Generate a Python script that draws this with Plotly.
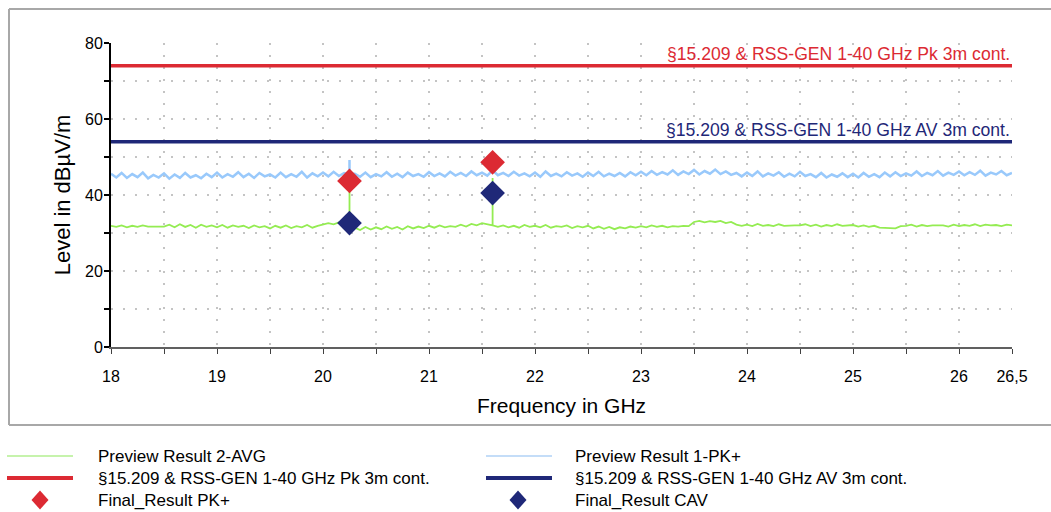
import numpy as np
import plotly.graph_objects as go

# ---------------- data ----------------
# frequency grid of the preview scans (GHz), 0.05 GHz steps from 18 to 26.5
freq_ghz = np.round(18.0 + 0.05 * np.arange(171), 2)

preview_pk = [
    45.6, 44.6, 45.8, 44.5, 45.5, 44.7, 45.9, 44.4, 45.3, 44.6, 45.7, 44.3, 45.4, 44.5, 45.8, 44.6, 45.2, 44.4, 45.6, 44.7,
    45.9, 44.6, 45.5, 44.8, 46.0, 44.7, 45.6, 44.5, 45.8, 44.9, 45.4, 44.6, 45.9, 44.7, 45.5, 44.8, 46.1, 44.6, 45.7, 44.9,
    45.9, 44.9, 46.1, 45.0, 45.8, 45.5, 45.6, 44.8, 45.9, 44.7, 45.5, 44.9, 46.0, 44.8, 45.6, 44.7, 45.9, 45.0, 45.5, 44.8,
    46.0, 45.0, 45.7, 44.9, 46.1, 45.1, 45.8, 45.0, 46.2, 45.2, 45.9, 45.1, 46.5, 45.2, 45.8, 45.0, 46.1, 45.1, 45.7, 44.9,
    45.9, 44.8, 46.2, 45.0, 45.6, 44.9, 46.0, 45.1, 45.7, 44.8, 45.9, 45.0, 46.1, 44.9, 45.6, 45.0, 45.8, 44.9, 46.0, 45.2,
    46.1, 45.2, 46.3, 45.3, 46.0, 45.4, 46.5, 45.3, 46.2, 45.5, 46.6, 45.4, 46.3, 45.6, 46.7, 45.5, 46.2, 45.3, 45.8, 44.9,
    45.9, 45.0, 46.2, 44.9, 45.7, 45.1, 46.0, 44.8, 45.6, 44.9, 46.1, 45.0, 45.5, 44.7, 45.8, 44.6, 45.4, 44.8, 45.7, 44.7,
    45.6, 44.6, 45.8, 44.8, 45.5, 44.7, 45.9, 44.9, 46.0, 45.0, 45.7, 45.1, 46.2, 45.0, 45.8, 45.2, 46.3, 45.1, 45.9, 45.3,
    46.2, 45.2, 46.0, 45.3, 46.4, 45.1, 45.9, 45.4, 46.3, 45.2, 45.8,
]
pk_spike_freq = [20.25]
pk_spike_level = [49.2]

preview_avg = [
    31.9, 31.6, 32.0, 31.5, 31.9, 31.6, 32.0, 31.7, 31.7, 31.7, 31.7, 32.2, 31.5, 32.3, 31.6, 32.1, 31.4, 32.2, 31.6, 32.0,
    31.5, 32.1, 31.4, 32.0, 31.6, 31.9, 31.3, 32.0, 31.5, 31.8, 31.2, 31.9, 31.4, 32.0, 31.3, 31.8, 31.5, 32.1, 31.4, 31.9,
    32.2, 32.6, 32.3, 32.8, 32.4, 32.3, 31.4, 30.8, 31.6, 30.9, 31.5, 31.0, 31.7, 31.1, 31.6, 30.9, 31.8, 31.2, 31.7, 31.3,
    31.9, 31.4, 32.0, 31.5, 31.8, 31.6, 32.2, 31.7, 32.4, 32.0, 32.6, 32.3, 32.0, 31.6, 32.0, 31.5, 31.9, 31.4, 32.1, 31.6,
    31.9, 31.5, 32.1, 31.4, 31.8, 31.6, 32.0, 31.3, 31.8, 31.5, 31.9, 31.2, 31.7, 31.1, 31.6, 31.0, 31.5, 31.2, 31.7, 31.4,
    31.8, 31.5, 32.0, 31.6, 31.9, 31.5, 31.8, 31.7, 31.9, 31.8, 32.9, 33.2, 32.8, 33.1, 32.9, 33.2, 32.6, 32.9, 32.2, 31.9,
    32.2, 31.8, 32.4, 31.9, 32.1, 31.8, 32.3, 31.9, 32.0, 32.0, 32.0, 32.3, 31.8, 32.2, 31.7, 32.1, 31.8, 32.3, 31.9, 32.0,
    32.1, 31.7, 32.0, 31.6, 31.9, 31.4, 31.3, 31.3, 31.2, 31.8, 31.9, 32.2, 31.7, 32.1, 31.8, 32.0, 32.0, 32.0, 31.7, 32.2,
    31.8, 32.1, 31.9, 32.3, 31.8, 32.2, 32.0, 32.1, 31.8, 32.2, 32.0,
]
avg_spike_freq = [20.25, 21.6]
avg_spike_level = [43.0, 44.5]

final_freq = [20.25, 21.6]
final_pk = [43.7, 48.6]
final_cav = [32.6, 40.5]

limit_freq = [18.0, 26.5]
limit_pk = [74.0, 74.0]
limit_av = [54.0, 54.0]

x_tickvals = [18, 19, 20, 21, 22, 23, 24, 25, 26, 26.5]
x_ticktext = ["18", "19", "20", "21", "22", "23", "24", "25", "26", "26,5"]
x_minorvals = [18.5, 19.5, 20.5, 21.5, 22.5, 23.5, 24.5, 25.5]
y_tickvals = [0, 20, 40, 60, 80]

name_avg = "Preview Result 2-AVG"
name_pk = "Preview Result 1-PK+"
name_lim_pk = "§15.209 & RSS-GEN 1-40 GHz Pk 3m cont."
name_lim_av = "§15.209 & RSS-GEN 1-40 GHz AV 3m cont."
name_fin_pk = "Final_Result PK+"
name_fin_cav = "Final_Result CAV"


def with_spikes(fr, vals, sf, sl):
    xs, ys = [], []
    for f, v in zip(fr, vals):
        xs.append(float(f))
        ys.append(v)
        for s_f, s_l in zip(sf, sl):
            if abs(f - s_f) < 1e-9:
                xs += [float(f), float(f)]
                ys += [s_l, v]
    return xs, ys


avg_x, avg_y = with_spikes(freq_ghz, preview_avg, avg_spike_freq, avg_spike_level)
pk_x, pk_y = with_spikes(freq_ghz, preview_pk, pk_spike_freq, pk_spike_level)

# ---------------- styles ----------------
FONT = "Liberation Sans, Arial, sans-serif"
C_GREEN = "#94ec52"
C_LBLUE = "#99c9fb"
C_RED = "#dc2a33"
C_NAVY = "#1f2878"
GRID = dict(showgrid=True, gridcolor="#c4c4c4", gridwidth=2, griddash="2px,10px")

W, H = 1051, 512
PL, PR, PT, PB = 111, 1012, 43, 347   # plot area in pixels


def px_x(p):
    return (p - PL) / (PR - PL)


def px_y(p):
    return (PB - p) / (PB - PT)


fig = go.Figure()
fig.add_trace(go.Scatter(x=avg_x, y=avg_y, mode="lines", name=name_avg,
                         line=dict(color=C_GREEN, width=1.8), showlegend=False))
fig.add_trace(go.Scatter(x=pk_x, y=pk_y, mode="lines", name=name_pk,
                         line=dict(color=C_LBLUE, width=2.5), showlegend=False))
fig.add_trace(go.Scatter(x=limit_freq, y=limit_pk, mode="lines", name=name_lim_pk,
                         line=dict(color=C_RED, width=3.5), showlegend=False))
fig.add_trace(go.Scatter(x=limit_freq, y=limit_av, mode="lines", name=name_lim_av,
                         line=dict(color=C_NAVY, width=3.5), showlegend=False))
fig.add_trace(go.Scatter(x=final_freq, y=final_pk, mode="markers", name=name_fin_pk,
                         marker=dict(symbol="diamond", size=19, color=C_RED), showlegend=False))
fig.add_trace(go.Scatter(x=final_freq, y=final_cav, mode="markers", name=name_fin_cav,
                         marker=dict(symbol="diamond", size=19, color=C_NAVY), showlegend=False))

# limit line labels
for yv, txt, col in [(limit_pk[-1], name_lim_pk, C_RED), (limit_av[-1], name_lim_av, C_NAVY)]:
    fig.add_annotation(x=limit_freq[-1], y=yv, text=txt, showarrow=False, xanchor="right",
                       yanchor="bottom", yshift=0, font=dict(family=FONT, size=17.6, color=col))

# outer frame (top, left, bottom edges; right edge lies outside the view)
frame_col = "#a8a8a8"
for (ax0, ay0, ax1, ay1) in [(9, 9, 1070, 9), (9, 9, 9, 425), (9, 425, 1070, 425)]:
    fig.add_shape(type="line", xref="paper", yref="paper", x0=px_x(ax0), x1=px_x(ax1),
                  y0=px_y(ay0), y1=px_y(ay1), line=dict(color=frame_col, width=2), layer="below")

# manual legend (pixel positions)
rows = [456, 478, 500]
cols = [(7, 73, 96, 40), (486, 552, 573, 518)]
entries = [
    (0, 0, "line", 2, name_avg, "#c6f3ac"),
    (0, 1, "line", 2, name_pk, "#c4ddf8"),
    (1, 0, "line", 4, name_lim_pk, C_RED),
    (1, 1, "line", 4, name_lim_av, C_NAVY),
    (2, 0, "diamond", 0, name_fin_pk, C_RED),
    (2, 1, "diamond", 0, name_fin_cav, C_NAVY),
]
for r, c, kind, w, txt, col in entries:
    yc = rows[r]
    x0, x1, xt, xd = cols[c]
    if kind == "line":
        fig.add_shape(type="line", xref="paper", yref="paper", x0=px_x(x0), x1=px_x(x1),
                      y0=px_y(yc), y1=px_y(yc), line=dict(color=col, width=w))
    else:
        hw, hh = 8.5, 9.5
        path = "M {} {} L {} {} L {} {} L {} {} Z".format(
            px_x(xd), px_y(yc - hh), px_x(xd + hw), px_y(yc), px_x(xd), px_y(yc + hh), px_x(xd - hw), px_y(yc))
        fig.add_shape(type="path", xref="paper", yref="paper", path=path,
                      fillcolor=col, line=dict(width=0))
    fig.add_annotation(xref="paper", yref="paper", x=px_x(xt), y=px_y(yc), text=txt, showarrow=False,
                       xanchor="left", yanchor="middle", font=dict(family=FONT, size=17, color="#000000"))

fig.update_layout(
    width=W, height=H,
    margin=dict(l=PL, r=W - PR, t=PT, b=H - PB),
    paper_bgcolor="white", plot_bgcolor="white",
    font=dict(family=FONT, color="#000000"),
    showlegend=False,
    xaxis=dict(range=[18, 26.5], tickmode="array", tickvals=x_tickvals, ticktext=x_ticktext,
               ticks="outside", ticklen=5, tickcolor="#404040", tickwidth=1,
               tickfont=dict(family=FONT, size=16), ticklabelstandoff=9,
               showline=True, linecolor="#606060", linewidth=2, zeroline=False,
               minor=dict(tickmode="array", tickvals=x_minorvals, ticks="outside", ticklen=5,
                          tickcolor="#404040", **GRID),
               title=dict(text="Frequency in GHz", font=dict(family=FONT, size=21), standoff=14),
               **GRID),
    yaxis=dict(range=[0, 80], tickmode="array", tickvals=y_tickvals,
               ticks="outside", ticklen=5, tickcolor="#000000", tickwidth=1.5,
               tickfont=dict(family=FONT, size=16), ticklabelstandoff=-2,
               showline=True, linecolor="#000000", linewidth=2, zeroline=False,
               minor=dict(dtick=10, tick0=0, ticks="outside", ticklen=5, tickcolor="#000000", **GRID),
               title=dict(text="Level in dBµV/m", font=dict(family=FONT, size=22), standoff=8),
               **GRID),
    xaxis2=dict(overlaying="x", anchor="y", side="bottom", range=[18, 26.5], tickmode="array",
                tickvals=sorted(x_tickvals + x_minorvals), ticks="inside", ticklen=5,
                tickcolor="#404040", showticklabels=False, showgrid=False, showline=False, zeroline=False),
    yaxis2=dict(overlaying="y", anchor="x", side="left", range=[0, 80], tickmode="linear", dtick=10,
                ticks="inside", ticklen=5, tickcolor="#000000", tickwidth=1.5,
                showticklabels=False, showgrid=False, showline=False, zeroline=False),
)

fig.write_html(
    "out.html",
    config={"displayModeBar": False},
    post_script="document.body.style.margin='0';document.body.style.overflow='hidden';",
)
